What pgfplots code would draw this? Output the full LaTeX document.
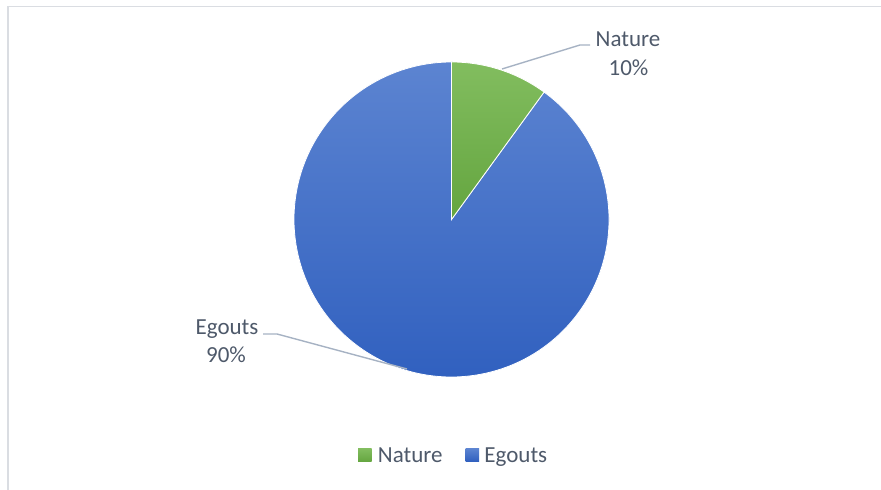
\documentclass[border=0pt]{standalone}
\usepackage{pgfplots}
\pgfplotsset{compat=1.18}
\usepackage{pgfplotstable}
\usepackage{fontspec}
\setmainfont{Carlito}

\definecolor{txtgray}{HTML}{4E596A}
\definecolor{leadgray}{HTML}{A6B2C3}
\definecolor{framegray}{HTML}{DADDE2}
\definecolor{greentop}{HTML}{82BD5F}
\definecolor{greenbot}{HTML}{64A53F}
\definecolor{bluetop}{HTML}{5C84D1}
\definecolor{bluebot}{HTML}{2E5EBE}

% share of each slice
\pgfplotstableread{
label value
Nature 10
Egouts 90
}\piedata

\pgfplotstablegetelem{0}{value}\of\piedata \let\vNature\pgfplotsretval
\pgfplotstablegetelem{1}{value}\of\piedata \let\vEgouts\pgfplotsretval
\pgfmathsetmacro\angSplit{90-360*\vNature/(\vNature+\vEgouts)}

\begin{document}
\begin{tikzpicture}[font=\fontsize{11.5}{14.5}\selectfont]
\begin{axis}[
  hide axis, scale only axis, clip=false,
  x=0.5pt, y=0.5pt,
  xmin=0, xmax=881, ymin=0, ymax=490,
]
  % frame (only top and left edges visible)
  \draw[framegray, line width=0.8pt] (axis cs:8,0) -- (axis cs:8,483.5) -- (axis cs:881,483.5);

  % slices
  \path[top color=bluetop, bottom color=bluebot, draw=white, line width=0.4pt]
    (axis cs:451.5,270.5) -- ++(\angSplit:78.75pt)
    arc[start angle=\angSplit, end angle=-270, radius=78.75pt] -- cycle;
  \path[top color=greentop, bottom color=greenbot, draw=white, line width=0.4pt]
    (axis cs:451.5,270.5) -- ++(90:78.75pt)
    arc[start angle=90, end angle=\angSplit, radius=78.75pt] -- cycle;

  % leader lines
  \draw[leadgray, line width=0.7pt] (axis cs:502,421) -- (axis cs:580,445) -- (axis cs:590,445);
  \draw[leadgray, line width=0.7pt] (axis cs:407,121) -- (axis cs:277,156) -- (axis cs:263,156);

  % data labels
  \node[txtgray, anchor=base, inner sep=0] at (axis cs:628,443) {Nature};
  \node[txtgray, anchor=base, inner sep=0] at (axis cs:628.5,414) {10\%};
  \node[txtgray, anchor=base, inner sep=0] at (axis cs:227,155) {Egouts};
  \node[txtgray, anchor=base, inner sep=0] at (axis cs:226,127) {90\%};

  % legend
  \path[top color=greentop, bottom color=greenbot] (axis cs:358,28) rectangle (axis cs:371.5,41.5);
  \node[txtgray, anchor=base west, inner sep=0] at (axis cs:377.5,27) {Nature};
  \path[top color=bluetop, bottom color=bluebot] (axis cs:465.5,28) rectangle (axis cs:479,41.5);
  \node[txtgray, anchor=base west, inner sep=0] at (axis cs:484,27) {Egouts};
\end{axis}
\pgfresetboundingbox
\path[use as bounding box] (current axis.south west) rectangle (current axis.north east);
\end{tikzpicture}
\end{document}
